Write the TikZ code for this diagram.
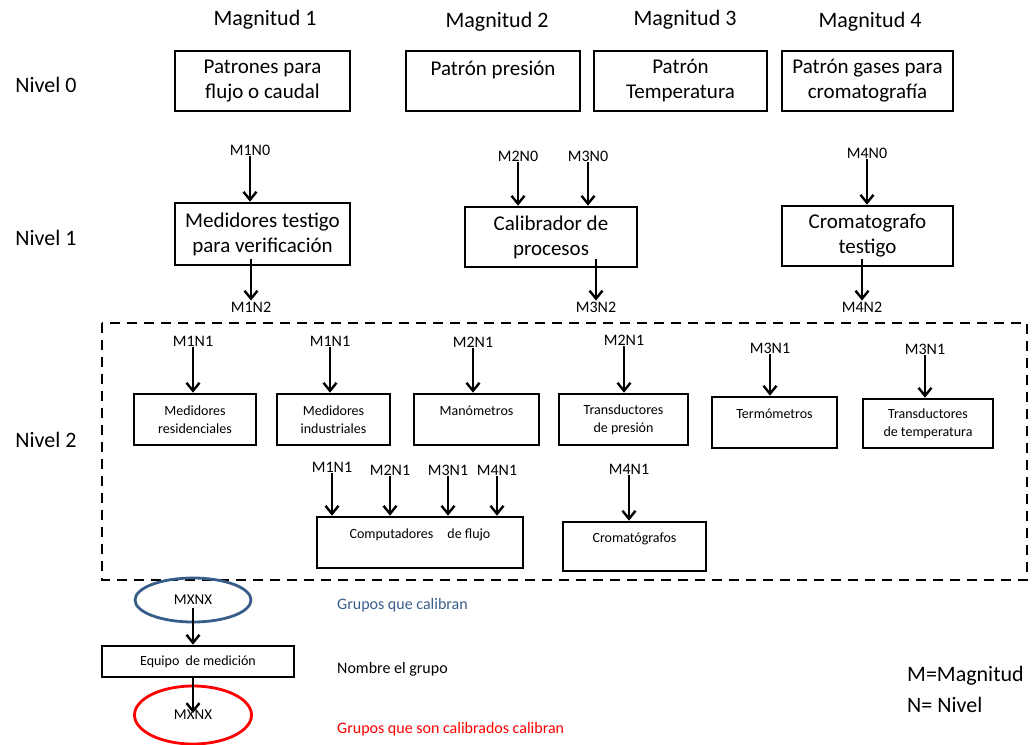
\documentclass[tikz,border=0pt]{standalone}
\usepackage{fontspec}
\setmainfont{Carlito}
\usetikzlibrary{arrows.meta,shapes.geometric}
\definecolor{azul}{RGB}{56,93,138}
\tikzset{
  caja/.style={draw, line width=2.6pt, align=center, inner sep=0pt, font=\fontsize{21}{25}\selectfont},
  cajita/.style={draw, line width=2.6pt, align=center, inner sep=0pt, font=\fontsize{14}{18}\selectfont},
  etiqueta/.style={font=\fontsize{16}{18}\selectfont, inner sep=1pt},
  titulo/.style={font=\fontsize{22}{24}\selectfont},
  flecha/.style={line width=2.4pt, -{Straight Barb[length=8pt,width=13pt]}},
  leyenda/.style={font=\fontsize{16}{18}\selectfont, anchor=west, inner sep=0pt}
}
\begin{document}
\begin{tikzpicture}[x=1pt,y=-1pt]
                \useasboundingbox (0,0) rectangle (1032,744);

                % Magnitudes y niveles
                \node[titulo] (mag1) at (265,20) {Magnitud 1};
                \node[titulo] (mag2) at (497,22) {Magnitud 2};
                \node[titulo] (mag3) at (685,20) {Magnitud 3};
                \node[titulo] (mag4) at (870,22) {Magnitud 4};
                \node[titulo] (niv0) at (46,85) {Nivel 0};
                \node[titulo] (niv1) at (46,238) {Nivel 1};
                \node[titulo] (niv2) at (46,440) {Nivel 2};

                % Nivel 0
                \node[caja, minimum width=175, minimum height=60] (p1) at (262.5,81) {Patrones para\\flujo o caudal};
                \node[caja, minimum width=174, minimum height=60] (p2) at (493,81) {Patrón presión\\\mbox{}};
                \node[caja, minimum width=173, minimum height=60] (p3) at (680.5,81) {Patrón\\Temperatura};
                \node[caja, minimum width=171, minimum height=60] (p4) at (867.5,81) {Patrón gases para\\cromatografía};

                % Nivel 1
                \node[etiqueta] (m1n0) at (250,150) {M1N0};
                \node[etiqueta] (m2n0) at (518,156) {M2N0};
                \node[etiqueta] (m3n0) at (588,156) {M3N0};
                \node[etiqueta] (m4n0) at (867,153) {M4N0};
                \node[caja, minimum width=175, minimum height=62] (testigo) at (262.5,234) {Medidores testigo\\para verificación};
                \node[caja, minimum width=172, minimum height=60] (calib) at (551,237) {Calibrador de\\procesos};
                \node[caja, minimum width=171, minimum height=60] (croma) at (867.5,236) {Cromatografo\\testigo};
                \node[etiqueta] (m1n2) at (251,307) {M1N2};
                \node[etiqueta] (m3n2) at (596,307) {M3N2};
                \node[etiqueta] (m4n2) at (862,307) {M4N2};

                \draw[flecha] (m1n0) -- (m1n0 |- testigo.north);
                \draw[flecha] (m2n0) -- (m2n0 |- calib.north);
                \draw[flecha] (m3n0) -- (m3n0 |- calib.north);
                \draw[flecha] (m4n0) -- (m4n0 |- croma.north);
                \draw[flecha] ([yshift=7pt]m1n2 |- testigo.south) -- (m1n2);
                \draw[flecha] ([yshift=9pt]m3n2 |- calib.south) -- (m3n2);
                \draw[flecha] ([yshift=8pt]m4n2 |- croma.south) -- (m4n2);

                % Nivel 2
                \draw[line width=2.4pt, dash pattern=on 10pt off 7pt] (102,323) rectangle (1027,580);
                \node[etiqueta] (l1) at (193,341) {M1N1};
                \node[etiqueta] (l2) at (330,341) {M1N1};
                \node[etiqueta] (l3) at (473,342) {M2N1};
                \node[etiqueta] (l4) at (624,340) {M2N1};
                \node[etiqueta] (l5) at (770,348) {M3N1};
                \node[etiqueta] (l6) at (925,349) {M3N1};
                \node[cajita, minimum width=122, minimum height=51] (resid) at (195,419.5) {Medidores\\residenciales};
                \node[cajita, minimum width=113, minimum height=51] (indus) at (333.5,419.5) {Medidores\\industriales};
                \node[cajita, minimum width=125, minimum height=51] (mano) at (476.5,419.5) {Manómetros\\\mbox{}};
                \node[cajita, minimum width=129, minimum height=51] (tpres) at (623.5,419.5) {Transductores\\de presión};
                \node[cajita, minimum width=125, minimum height=51] (termo) at (774.5,422.5) {Termómetros\\\mbox{}};
                \node[cajita, minimum width=130, minimum height=49] (ttemp) at (928,423.5) {Transductores\\de temperatura};
                \draw[flecha] (l1) -- (l1 |- resid.north);
                \draw[flecha] (l2) -- (l2 |- indus.north);
                \draw[flecha] (l3) -- (l3 |- mano.north);
                \draw[flecha] (l4) -- (l4 |- tpres.north);
                \draw[flecha] (l5) -- (l5 |- termo.north);
                \draw[flecha] (l6) -- (l6 |- ttemp.north);

                \node[etiqueta] (c1) at (332,467) {M1N1};
                \node[etiqueta] (c2) at (390,470) {M2N1};
                \node[etiqueta] (c3) at (448,470) {M3N1};
                \node[etiqueta] (c4) at (497,470) {M4N1};
                \node[etiqueta] (l7) at (629,469) {M4N1};
                \node[cajita, minimum width=206, minimum height=51] (compu) at (420,542.5) {Computadores\quad de flujo\\\mbox{}};
                \node[cajita, minimum width=143, minimum height=49] (cromas) at (634.5,546.5) {Cromatógrafos\\\mbox{}};
                \draw[flecha] (c1) -- (c1 |- compu.north);
                \draw[flecha] (c2) -- (c2 |- compu.north);
                \draw[flecha] (c3) -- (c3 |- compu.north);
                \draw[flecha] (c4) -- (c4 |- compu.north);
                \draw[flecha] (l7) -- (l7 |- cromas.north);

                % Leyenda
                \node[ellipse, draw=azul, line width=2.8pt, minimum width=116, minimum height=44, inner sep=0pt, font=\fontsize{15}{17}\selectfont] (grupo) at (193,600) {MXNX};
                \node[draw, line width=2.6pt, minimum width=192, minimum height=31, inner sep=0pt, font=\fontsize{14}{16}\selectfont] (equipo) at (198,661.5) {Equipo\ \ de medición};
                \node[ellipse, draw=red, line width=2.8pt, minimum width=117, minimum height=58, inner sep=0pt, font=\fontsize{15}{17}\selectfont] (calibrado) at (193,715) {MXNX};
                \draw[flecha] ([yshift=-8pt]grupo.center) -- (grupo.center |- equipo.north);
                \draw[flecha] (grupo.center |- equipo.south) -- ([yshift=2pt]calibrado.center);

                \node[leyenda, text=azul] (txt1) at (337,605) {Grupos que calibran};
                \node[leyenda] (txt2) at (337,669) {Nombre el grupo};
                \node[leyenda, text=red] (txt3) at (337,729) {Grupos que son calibrados calibran};
                \node[titulo, anchor=west, inner sep=0pt] (defm) at (907,676) {M=Magnitud};
                \node[titulo, anchor=west, inner sep=0pt] (defn) at (907,705) {N= Nivel};
            \end{tikzpicture}
\end{document}
